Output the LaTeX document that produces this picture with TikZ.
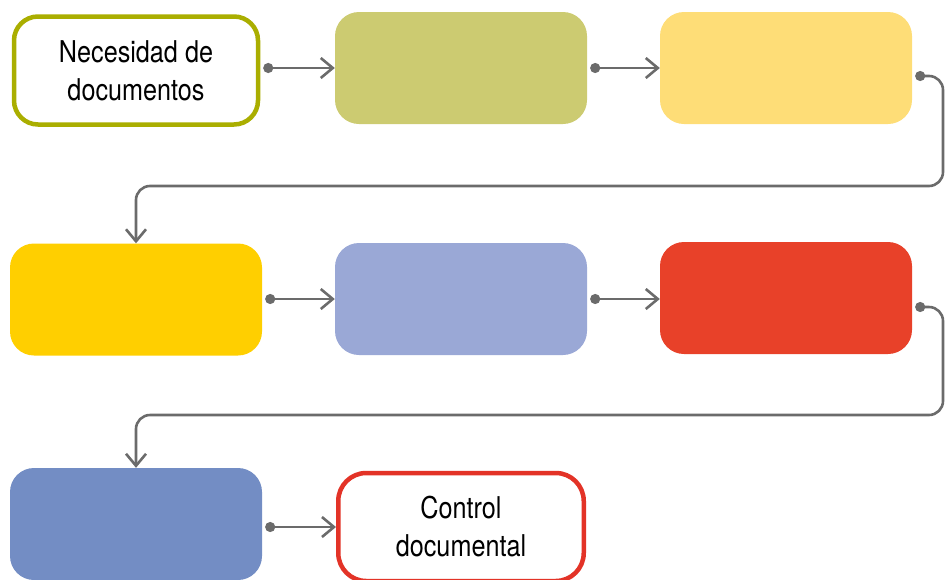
\documentclass[tikz,border=0pt]{standalone}
\usepackage{fontspec}
\setmainfont{TeX Gyre Heros}[FakeStretch=0.84]
\usetikzlibrary{arrows.meta}
\definecolor{olivebd}{HTML}{AAAE00}
\definecolor{redbd}{HTML}{E33327}
\definecolor{fillB}{HTML}{CCCB71}
\definecolor{fillC}{HTML}{FEDD77}
\definecolor{fillD}{HTML}{FFCF00}
\definecolor{fillE}{HTML}{9AA8D6}
\definecolor{fillF}{HTML}{E84129}
\definecolor{fillG}{HTML}{738DC4}
\definecolor{linkgray}{HTML}{6B6B6B}
\tikzset{
  stage/.style={rectangle, rounded corners=24pt, minimum width=252pt, minimum height=112pt,
    inner sep=0pt, align=center, font=\fontsize{30}{38}\selectfont},
  framed/.style={stage, draw=#1, line width=4.5pt, fill=white, minimum width=244pt, minimum height=108pt},
  link/.style={draw=linkgray, line width=2.6pt, rounded corners=14pt,
    {Circle[length=10pt]}-{Straight Barb[length=12pt,width=20pt,line width=2.6pt]}},
}
\begin{document}
\begin{tikzpicture}[x=1pt,y=-1pt]
  \useasboundingbox (0,0) rectangle (947,579);
  \clip (0,0) rectangle (947,579);
  % first row
  \node[framed=olivebd] (n1) at (136,70.5) {Necesidad de\\documentos};
  \node[stage, fill=fillB] (n2) at (461,68) {};
  \node[stage, fill=fillC] (n3) at (786,68) {};
  % second row
  \node[stage, fill=fillD] (n4) at (136,299.5) {};
  \node[stage, fill=fillE] (n5) at (461,299) {};
  \node[stage, fill=fillF] (n6) at (786,298) {};
  % third row
  \node[stage, fill=fillG] (n7) at (136,524) {};
  \node[framed=redbd, minimum width=245.5pt, rounded corners=28pt] (n8) at (461,527) {Control\\documental};
  % levels of the dots on the row-to-row links and their turning points
  \coordinate (r1) at (0,76);
  \coordinate (r2) at (0,307);
  \coordinate (t1) at (943,186);
  \coordinate (t2) at (943,415);
  % links, kept level with the box they point to
  \draw[link] ([xshift=3pt]n1.east |- n2.west) -- (n2.west);
  \draw[link] ([xshift=3pt]n2.east) -- (n3.west);
  \draw[link] ([xshift=3pt]n3.east |- r1) -| (t1) -| (n4.north);
  \draw[link] ([xshift=3pt]n4.east |- n5.west) -- (n5.west);
  \draw[link] ([xshift=3pt]n5.east) -- (n5.east -| n6.west);
  \draw[link] ([xshift=3pt]n6.east |- r2) -| (t2) -| (n7.north);
  \draw[link] ([xshift=3pt]n7.east |- n8.west) -- (n8.west);
\end{tikzpicture}
\end{document}
